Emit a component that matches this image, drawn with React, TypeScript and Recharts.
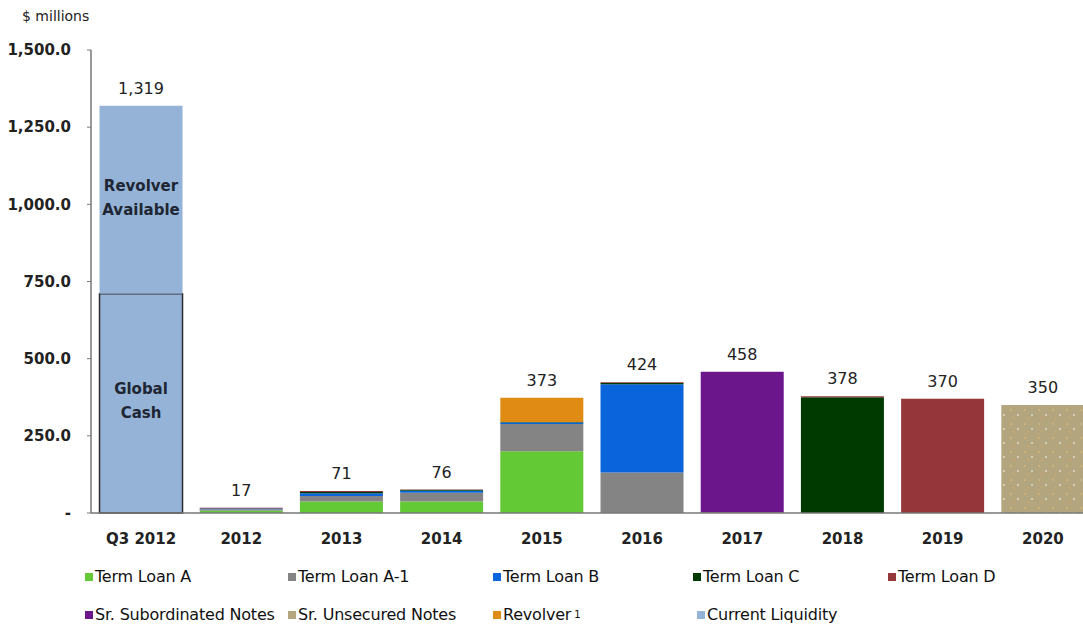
import { BarChart, Bar, XAxis, YAxis, LabelList } from "recharts";

const categories = ["Q3 2012", "2012", "2013", "2014", "2015", "2016", "2017", "2018", "2019", "2020"];
const termLoanA = [0, 7, 37, 37, 200, 0, 0, 0, 0, 0];
const termLoanA1 = [0, 5, 18, 29, 88, 131, 0, 0, 0, 0];
const termLoanB = [0, 2, 9, 6, 5, 286, 0, 0, 0, 0];
const termLoanC = [0, 1, 4, 3, 2, 4, 2, 375, 0, 0];
const termLoanD = [0, 1, 3, 1, 0, 3, 1, 3, 370, 0];
const srSubNotes = [0, 1, 0, 0, 0, 0, 455, 0, 0, 0];
const srUnsecNotes = [0, 0, 0, 0, 0, 0, 0, 0, 0, 350];
const revolver = [0, 0, 0, 0, 78, 0, 0, 0, 0, 0];
const globalCash = [710, 0, 0, 0, 0, 0, 0, 0, 0, 0];
const revolverAvailable = [609, 0, 0, 0, 0, 0, 0, 0, 0, 0];
const totalLabels = ["1,319", "17", "71", "76", "373", "424", "458", "378", "370", "350"];
const yTicks = [0, 250, 500, 750, 1000, 1250, 1500];

const seriesKeys = ["tlA", "tlA1", "tlB", "tlC", "tlD", "ssn", "sun", "rev", "cash", "avail"];
const seriesValues = [
  termLoanA, termLoanA1, termLoanB, termLoanC, termLoanD,
  srSubNotes, srUnsecNotes, revolver, globalCash, revolverAvailable,
];

const data = categories.map((c, i) => {
  const row: any = { cat: c };
  seriesKeys.forEach((k, s) => (row[k] = seriesValues[s][i]));
  return row;
});

// topmost non-zero series for each category carries the total label
const topKey = categories.map((_, i) => {
  let key = "";
  seriesKeys.forEach((k, s) => {
    if (seriesValues[s][i] > 0) key = k;
  });
  return key;
});

const FONT = "'DejaVu Sans', 'Liberation Sans', sans-serif";

const legendRows = [
  [
    { name: "Term Loan A", color: "#63c934", x: 85 },
    { name: "Term Loan A-1", color: "#848484", x: 288 },
    { name: "Term Loan B", color: "#0a64dc", x: 493 },
    { name: "Term Loan C", color: "#013a01", x: 693 },
    { name: "Term Loan D", color: "#94363a", x: 888 },
  ],
  [
    { name: "Sr. Subordinated Notes", color: "#6c168c", x: 85 },
    { name: "Sr. Unsecured Notes", color: "#b3a67f", x: 288 },
    { name: "Revolver", color: "#e08c14", x: 493, sup: "1" },
    { name: "Current Liquidity", color: "#95b3d7", x: 697 },
  ],
];

function InsideLabel(lines: string[]) {
  return (props: any) => {
    const { x, y, width, height, value } = props;
    if (value !== "Q3 2012") return null;
    const cx = x + width / 2;
    const cy = y + height / 2;
    return (
      <text x={cx} textAnchor="middle" fontFamily={FONT} fontSize={15} fontWeight="bold" fill="#1e2633">
        {lines.map((l, k) => (
          <tspan key={k} x={cx} y={cy - 14 + k * 24 + 5}>
            {l}
          </tspan>
        ))}
      </text>
    );
  };
}

function TotalLabel(key: string) {
  return (props: any) => {
    const { x, y, width, value } = props;
    const i = categories.indexOf(value);
    if (i < 0 || topKey[i] !== key) return null;
    return (
      <text x={x + width / 2} y={y - 12} textAnchor="middle" fontFamily={FONT} fontSize={16} fill="#222">
        {totalLabels[i]}
      </text>
    );
  };
}

const catOf = (entry: any) => entry?.payload?.cat;

const fills: Record<string, string> = {
  tlA: "#63c934",
  tlA1: "#848484",
  tlB: "#0a64dc",
  tlC: "#013a01",
  tlD: "#94363a",
  ssn: "#6c168c",
  sun: "url(#speck)",
  rev: "#e08c14",
  cash: "#95b3d7",
  avail: "#95b3d7",
};

export default function App() {
  return (
    <div style={{ position: "absolute", left: 0, top: 0, width: 1083, height: 625, overflow: "hidden", background: "#fff", fontFamily: FONT }}>
      <div style={{ position: "absolute", left: 22, top: 8, fontSize: 14, color: "#222" }}>$ millions</div>
      <BarChart
        width={1095}
        height={625}
        data={data}
        margin={{ top: 50, right: 2, left: 0, bottom: 72 }}
        barCategoryGap="8.5%"
      >
        <defs>
          <pattern id="speck" width="14" height="14" patternUnits="userSpaceOnUse">
            <rect width="14" height="14" fill="#b3a67f" />
            <circle cx="3" cy="4" r="0.8" fill="#f0c070" />
            <circle cx="10" cy="9" r="0.8" fill="#ffffff" />
            <circle cx="6" cy="12" r="0.7" fill="#e8a860" />
          </pattern>
        </defs>
        <XAxis
          dataKey="cat"
          height={40}
          tickLine={false}
          axisLine={{ stroke: "#777", strokeWidth: 1.5 }}
          tickMargin={14}
          tick={{ fontFamily: FONT, fontSize: 15, fontWeight: "bold", fill: "#222" }}
        />
        <YAxis
          width={91}
          domain={[0, 1500]}
          ticks={yTicks}
          interval={0}
          tickSize={4}
          tickMargin={16}
          axisLine={{ stroke: "#777", strokeWidth: 1.5 }}
          tickLine={{ stroke: "#777" }}
          tickFormatter={(v: number) => (v === 0 ? "-" : v.toLocaleString("en-US", { minimumFractionDigits: 1 }))}
          tick={{ fontFamily: FONT, fontSize: 15, fontWeight: "bold", fill: "#222" }}
        />
        {seriesKeys.map((k) => (
          <Bar
            key={k}
            dataKey={k}
            stackId="a"
            fill={fills[k]}
            stroke={k === "cash" ? "#2b2b2b" : undefined}
            strokeWidth={k === "cash" ? 1.5 : 0}
            isAnimationActive={false}
          >
            {k === "cash" && <LabelList valueAccessor={catOf} content={InsideLabel(["Global", "Cash"])} />}
            {k === "avail" && <LabelList valueAccessor={catOf} content={InsideLabel(["Revolver", "Available"])} />}
            <LabelList valueAccessor={catOf} content={TotalLabel(k)} />
          </Bar>
        ))}
      </BarChart>
      {legendRows.map((row, r) =>
        row.map((item) => (
          <div
            key={item.name}
            style={{
              position: "absolute",
              left: item.x,
              top: r === 0 ? 567 : 605,
              display: "flex",
              alignItems: "center",
              fontSize: 16,
              color: "#111",
              whiteSpace: "nowrap",
              letterSpacing: -0.2,
            }}
          >
            <span style={{ width: 8, height: 8, background: item.color, marginRight: 2, display: "inline-block" }} />
            {item.name}
            {item.sup && <sup style={{ fontSize: 10, marginLeft: 3 }}>{item.sup}</sup>}
          </div>
        ))
      )}
    </div>
  );
}
